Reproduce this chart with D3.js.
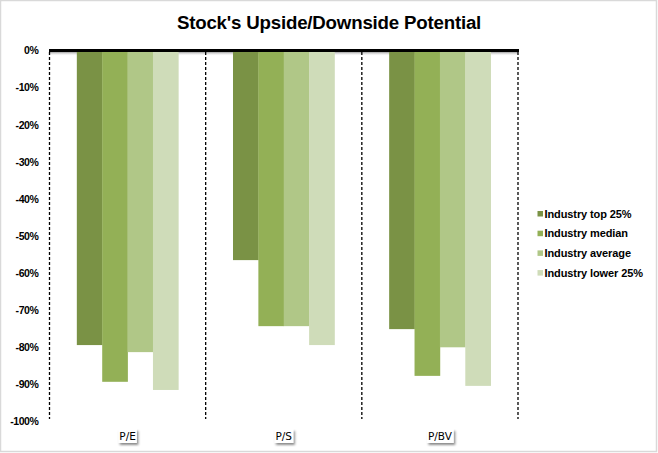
<!DOCTYPE html>
<html><head><meta charset="utf-8">
<script src="https://cdn.jsdelivr.net/npm/d3@7"></script>
<style>body{margin:0;background:#fff}svg{display:block}</style>
</head><body>
<svg id="c" width="658" height="453"></svg>
<script>
const categories = ["P/E", "P/S", "P/BV"];
const seriesNames = ["Industry top 25%", "Industry median", "Industry average", "Industry lower 25%"];
const top25 = [-79.4, -56.5, -75.1];
const median = [-89.3, -74.3, -87.7];
const average = [-81.3, -74.3, -80.0];
const lower25 = [-91.5, -79.4, -90.4];
const yTicks = [0, -10, -20, -30, -40, -50, -60, -70, -80, -90, -100];
const colors = ["#7A9245", "#93B056", "#B0C787", "#CFDCB9"];
const seriesValues = [top25, median, average, lower25];

const svg = d3.select("#c");
const defs = svg.append("defs");
const g1 = defs.append("linearGradient").attr("id","sh").attr("x1",0).attr("x2",0).attr("y1",0).attr("y2",1);
g1.append("stop").attr("offset","0").attr("stop-color","#a0a0a0");
g1.append("stop").attr("offset","1").attr("stop-color","#ffffff").attr("stop-opacity",0);
const f = defs.append("filter").attr("id","ds").attr("x","-30%").attr("y","-30%").attr("width","160%").attr("height","180%");
f.append("feDropShadow").attr("dx",1.5).attr("dy",2).attr("stdDeviation",1.2).attr("flood-color","#000").attr("flood-opacity",0.45);

// border
svg.append("rect").attr("x",0.5).attr("y",0.5).attr("width",656).attr("height",451)
  .attr("fill","none").attr("stroke","#d9d9d9").attr("stroke-width",1.5);

const x0 = d3.scaleBand().domain(categories).range([49.5, 518]).padding(0);
const bw = x0.bandwidth();
const x1 = d3.scaleBand().domain(seriesNames).range([bw*0.175, bw*0.825]).padding(0);
const y = d3.scaleLinear().domain([-100, 0]).range([421.5, 50.5]);

// title
svg.append("text").attr("x", 329).attr("y", 29).attr("text-anchor","middle")
  .attr("font-family","Liberation Sans, Arial, sans-serif").attr("font-weight","bold")
  .attr("font-size","18.7px").attr("fill","#000").attr("letter-spacing","-0.2px").text("Stock's Upside/Downside Potential");

// y axis labels
const yAxis = d3.axisLeft(y).tickValues(yTicks).tickFormat(d => d + "%").tickSize(0).tickPadding(0);
const ya = svg.append("g").attr("transform","translate(38.5,0)").call(yAxis);
ya.select(".domain").remove();
ya.selectAll("text").attr("font-family","Liberation Sans, Arial, sans-serif").attr("font-weight","bold")
  .attr("font-size","10.5px").attr("fill","#000").attr("letter-spacing","-0.4px");

// zero line shadow
svg.append("rect").attr("x", 49.5).attr("y", 52).attr("width", 468.5).attr("height", 4).attr("fill","url(#sh)");

// bars
const data = [];
categories.forEach((c, i) => seriesNames.forEach((s, j) => data.push({c, s, v: seriesValues[j][i], j})));
svg.append("g").selectAll("rect").data(data).join("rect")
  .attr("x", d => x0(d.c) + x1(d.s))
  .attr("width", x1.bandwidth() + 0.3)
  .attr("y", y(0))
  .attr("height", d => y(d.v) - y(0))
  .attr("fill", d => colors[d.j]);

// zero line
svg.append("line").attr("x1", 49).attr("x2", 519).attr("y1", y(0)).attr("y2", y(0))
  .attr("stroke","#000").attr("stroke-width",3);

// dashed separators
const seps = categories.map(c => x0(c)).concat([x0.range()[1]]);
svg.append("g").selectAll("line").data(seps).join("line")
  .attr("x1", d => d).attr("x2", d => d).attr("y1", 52).attr("y2", 419)
  .attr("stroke","#000").attr("stroke-width",1.3).attr("stroke-dasharray","3,2");

// category labels
const cl = svg.append("g").selectAll("g").data(categories).join("g")
  .attr("transform", d => `translate(${x0(d) + bw/2},436)`);
cl.each(function(d){
  const g = d3.select(this);
  const t = g.append("text").attr("text-anchor","middle").attr("y",4)
    .attr("font-family","DejaVu Sans, sans-serif").attr("font-size","10.5px").attr("fill","#000").text(d);
  const b = t.node().getBBox();
  g.insert("rect","text").attr("x", b.x - 1).attr("y", -7).attr("width", b.width + 2).attr("height", 14)
    .attr("fill","#fff").attr("filter","url(#ds)");
});

// legend
const lg = svg.append("g").selectAll("g").data(seriesNames).join("g")
  .attr("transform", (d,i) => `translate(537.5,${213.5 + i*19.7})`);
lg.append("rect").attr("x",0).attr("y",-2.5).attr("width",5.5).attr("height",5.5).attr("fill",(d,i)=>colors[i]);
lg.append("text").attr("x",7).attr("y",4).attr("font-family","Liberation Sans, Arial, sans-serif")
  .attr("font-weight","bold").attr("font-size","11px").attr("fill","#000").attr("letter-spacing","-0.1px").text(d=>d);
</script>
</body></html>
